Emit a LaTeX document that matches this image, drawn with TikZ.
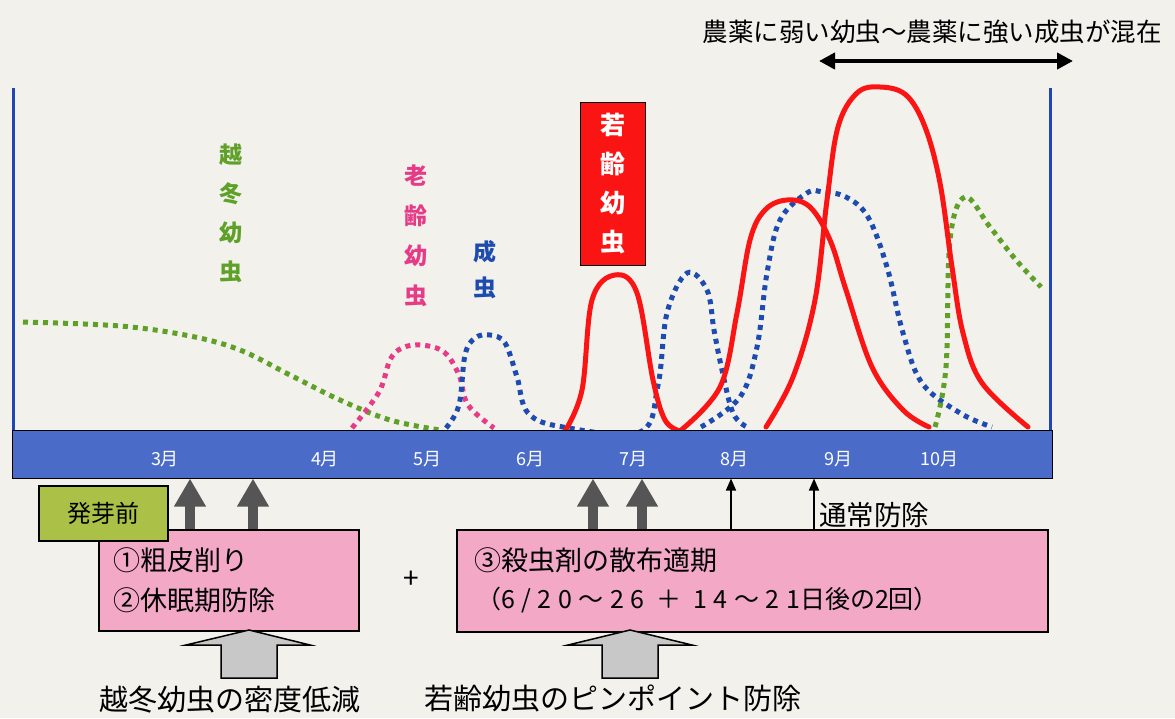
\documentclass[tikz,border=0pt]{standalone}
\usepackage{fontspec}
\setmainfont{Noto Sans CJK JP}
\newfontfamily\spaced[LetterSpace=26]{Noto Sans CJK JP}
\usetikzlibrary{arrows.meta}
\definecolor{bg}{RGB}{242,241,236}
\definecolor{bandblue}{RGB}{74,108,200}
\definecolor{axisblue}{RGB}{30,70,180}
\definecolor{cred}{RGB}{250,20,20}
\definecolor{cblue}{RGB}{30,75,175}
\definecolor{cgreen}{RGB}{95,160,40}
\definecolor{cpink}{RGB}{230,60,135}
\definecolor{boxpink}{RGB}{243,168,198}
\definecolor{boxgreen}{RGB}{170,192,70}
\definecolor{darkarrow}{RGB}{85,85,85}
\definecolor{hollowgray}{RGB}{200,200,200}
\begin{document}
\begin{tikzpicture}[x=1pt,y=-1pt,
 dotline/.style={line width=5pt, dash pattern=on 5pt off 5pt},
 redline/.style={cred, line width=5pt, line cap=round, line join=round},
 month/.style={white, font=\fontsize{18}{20}\selectfont, inner sep=0},
 vlabel/.style={font=\fontsize{23}{39}\selectfont\bfseries, align=center, inner sep=0},
 boxtext/.style={font=\fontsize{27}{30}\selectfont, anchor=west, inner sep=0},
 bottomtext/.style={font=\fontsize{29}{32}\selectfont, anchor=west, inner sep=0},
 pinkbox/.style={draw=black, line width=1.2pt, fill=boxpink, inner sep=0},
 fatarrow/.style={darkarrow, line width=10pt, -{Triangle[length=28pt,width=30pt]}},
 thinarrow/.style={black, line width=1.5pt, -{Triangle[length=12pt,width=10pt]}},
 hollowarrow/.style={draw=black, line width=1.5pt, fill=hollowgray, line join=miter}
]
\useasboundingbox (0,0) rectangle (1175,718);
\fill[bg] (0,0) rectangle (1175,718);

% axes
\coordinate (lt) at (13,88);
\coordinate (lb) at (13,431);
\coordinate (rt) at (1050,88);
\coordinate (rb) at (1050,431);
\draw[axisblue, line width=3pt] (lt) -- (lb);
\draw[axisblue, line width=3pt] (rt) -- (rb);

% curves
\draw[cgreen, dotline] plot[smooth, tension=0.6] coordinates {(23,322) (120,326) (190,336) (240,350) (290,375) (340,400) (390,420) (440,430)};
\draw[cpink, dotline] plot[smooth, tension=0.6] coordinates {(352,428) (379,392) (390,360) (402,348) (421,345) (444,352) (459,375) (468,405) (494,428)};
\draw[cblue, dotline] plot[smooth, tension=0.6] coordinates {(446,428) (459,405) (465,355) (475,338) (490,335) (505,343) (517,377) (528,413) (563,427) (640,432) (658,385) (667,313) (687,273) (707,290) (714,330) (722,370) (733,413) (747,427)};
\draw[cblue, dotline] plot[smooth, tension=0.6] coordinates {(701,427) (740,397) (757,347) (767,273) (780,220) (807,193) (823,192) (846,197) (868,217) (887,267) (903,333) (922,383) (960,413) (992,427)};
\draw[cgreen, dotline] plot[smooth, tension=0.6] coordinates {(935,427) (946,367) (950,240) (965,197) (990,227) (1016,260) (1041,287)};
\draw[redline] plot[smooth, tension=0.6] coordinates {(565,431) (582,390) (592,300) (615,275) (637,293) (653,380) (665,420) (680,431)};
\draw[redline] plot[smooth, tension=0.6] coordinates {(680,431) (720,387) (737,313) (750,240) (765,210) (787,200) (810,207) (830,240) (846,290) (872,367) (903,410) (929,427)};
\draw[redline] plot[smooth, tension=0.6] coordinates {(766,427) (793,377) (815,300) (827,200) (838,127) (857,93) (880,87) (906,95) (925,127) (940,183) (952,267) (963,333) (982,383) (1028,427)};

% labels on chart
\node[vlabel, text=cgreen] (lwinter) at (231,213) {越\\冬\\幼\\虫};
\node[vlabel, text=cpink, font=\fontsize{23}{40}\selectfont\bfseries] (lold) at (416,236) {老\\齢\\幼\\虫};
\node[vlabel, text=cblue, font=\fontsize{23}{36}\selectfont\bfseries] (ladult) at (485,270) {成\\虫};
\node[draw=black, line width=1pt, fill=cred, minimum width=65pt, minimum height=163pt, inner sep=0, text=white, align=center, font=\fontsize{25}{39}\selectfont\bfseries] (lyoung) at (612.5,183.5) {若\\齢\\幼\\虫};

% top double arrow
\node[font=\fontsize{25.5}{28}\selectfont, inner sep=0] (toptext) at (932,32) {農薬に弱い幼虫～農薬に強い成虫が混在};
\coordinate (dal) at (819,61);
\coordinate (dar) at (1073,61);
\draw[black, line width=4pt, {Triangle[length=16pt,width=16pt]}-{Triangle[length=16pt,width=16pt]}] (dal) -- (dar);

% month band
\node[draw=black, line width=1pt, fill=bandblue, minimum width=1040pt, minimum height=48pt, inner sep=0] (band) at (532,454) {};
\node[month] (m3) at (165,459) {3月};
\node[month] (m4) at (325,459) {4月};
\node[month] (m5) at (427,459) {5月};
\node[month] (m6) at (530,459) {6月};
\node[month] (m7) at (633,459) {7月};
\node[month] (m8) at (734,459) {8月};
\node[month] (m9) at (838,459) {9月};
\node[month] (m10) at (939,459) {10月};

% boxes
\node[pinkbox, minimum width=260pt, minimum height=101pt] (box1) at (229,580.5) {};
\node[pinkbox, minimum width=591pt, minimum height=102pt] (box2) at (752.5,581) {};
\node[draw=black, line width=1.2pt, fill=boxgreen, minimum width=129pt, minimum height=55pt, inner sep=0, font=\fontsize{24}{26}\selectfont] (bud) at (103.5,513.5) {発芽前};

\node[boxtext] (t1) at (113,560) {①粗皮削り};
\node[boxtext] (t2) at (113,600) {②休眠期防除};
\node[boxtext] (t3) at (474,560) {③殺虫剤の散布適期};
\node[boxtext, font=\fontsize{25}{30}\selectfont] (t4) at (476,600) {（{\spaced 6/20～26 ＋ 14～21}日後の2回）};
\node[font=\fontsize{28}{30}\selectfont, inner sep=0] (plus) at (411,580) {+};

% arrows to band
\coordinate (a1) at (190,0);
\coordinate (a2) at (253,0);
\coordinate (a3) at (593,0);
\coordinate (a4) at (642,0);
\coordinate (a5) at (731,0);
\coordinate (a6) at (814,0);
\draw[fatarrow] (box1.north -| a1) -- (band.south -| a1);
\draw[fatarrow] (box1.north -| a2) -- (band.south -| a2);
\draw[fatarrow] (box2.north -| a3) -- (band.south -| a3);
\draw[fatarrow] (box2.north -| a4) -- (band.south -| a4);
\draw[thinarrow] (box2.north -| a5) -- (band.south -| a5);
\draw[thinarrow] (box2.north -| a6) -- (band.south -| a6);
\node[font=\fontsize{27.5}{28}\selectfont, anchor=west, inner sep=0] (usual) at (819,515) {通常防除};

% hollow arrows
\draw[hollowarrow] (249,630) -- (310,645) -- (277,645) -- (277,678) -- (221,678) -- (221,645) -- (186,645) -- cycle;
\draw[hollowarrow] (630,630) -- (692,645) -- (658,645) -- (658,678) -- (602,678) -- (602,645) -- (568,645) -- cycle;
\node[bottomtext] (b1) at (99,700) {越冬幼虫の密度低減};
\node[bottomtext] (b2) at (424,698) {若齢幼虫のピンポイント防除};
\end{tikzpicture}
\end{document}
